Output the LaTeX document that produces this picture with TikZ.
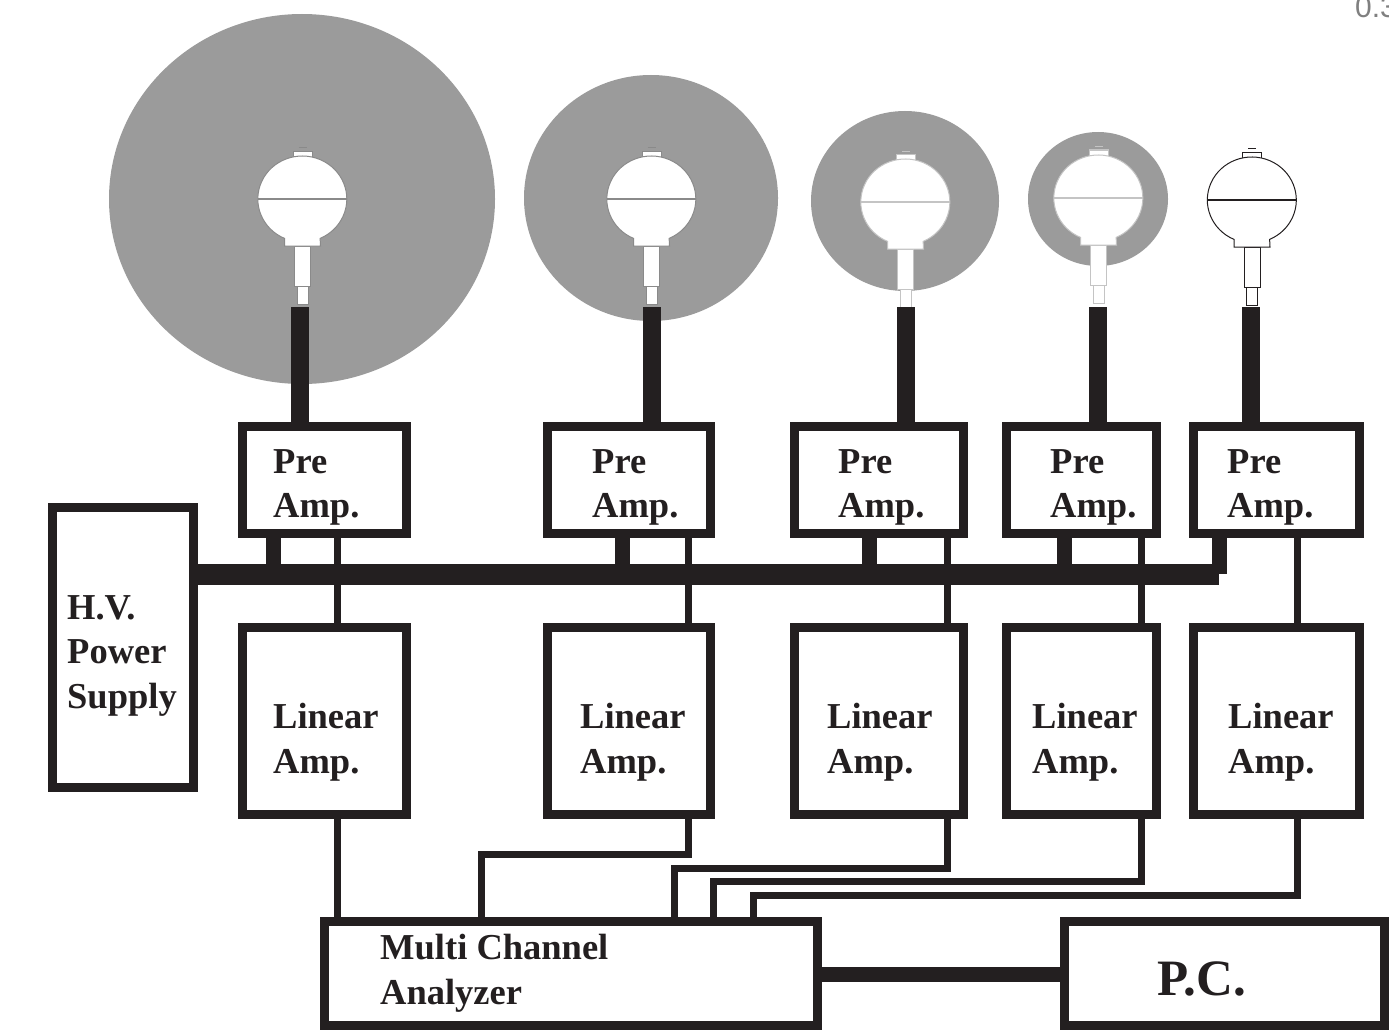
\documentclass[tikz,border=0pt]{standalone}
\usepackage{fontspec}
\setmainfont{Liberation Serif}
\setsansfont{Liberation Sans}
\usepackage{tikz}
\definecolor{minkblack}{HTML}{231F20}
\definecolor{mdisc}{HTML}{9B9B9B}
\definecolor{mprobe}{HTML}{8A8A8A}
\definecolor{mprobelight}{HTML}{C4C4C4}
\tikzset{
  ampbox/.style={draw=minkblack, line width=9pt, fill=white, inner sep=0pt},
  lbl/.style={font=\fontsize{36.5}{44.5}\selectfont\bfseries, text=minkblack, align=left, anchor=west, inner sep=0pt},
  wire/.style={draw=minkblack, line width=7pt},
  tap/.style={draw=minkblack, line width=15pt},
  busline/.style={draw=minkblack, line width=21pt},
  cable/.style={draw=minkblack, line width=18pt},
  disc/.style={fill=mdisc},
  pics/probe/.style={code={
    \draw[#1, fill=white, line width=1pt] (-5.5,87) rectangle (5.5,105);
    \draw[#1, fill=white, line width=1pt] (-8,47) rectangle (8,87);
    \draw[#1, fill=white, line width=1pt] (-9.5,-48) rectangle (9.5,-42);
    \draw[#1, fill=white, line width=1pt] (-18,39.4) arc[start angle=113.6, end angle=426.4, x radius=44.5, y radius=43] -- (18,47) -- (-18,47) -- cycle;
    \draw[#1, line width=2pt] (-44.5,0) -- (44.5,0);
    \draw[#1, line width=1pt] (-4,-51) -- (4,-51);
  }},
}
\begin{document}
\begin{tikzpicture}[x=1pt, y=-1pt]
  \useasboundingbox (0,0) rectangle (1389,1030);

  \node[font=\sffamily\fontsize{30}{30}\selectfont, text=gray, anchor=west, inner sep=0pt] (scale) at (1355,7) {0.3};

  \fill[disc] (302,199) ellipse [x radius=193, y radius=185];
  \fill[disc] (651,198) ellipse [x radius=127, y radius=123];
  \fill[disc] (905,201) ellipse [x radius=94, y radius=90];
  \fill[disc] (1098,199) ellipse [x radius=70, y radius=67];

  \pic (probe1) at (302.5,199) {probe=mprobe};
  \pic (probe2) at (651.5,199) {probe=mprobe};
  \pic (probe3) at (905.5,202) {probe=mprobelight};
  \pic (probe4) at (1098.5,198) {probe=mprobelight};
  \pic (probe5) at (1252,200) {probe=minkblack};

  \node[ampbox, minimum width=164pt, minimum height=107pt] (pre1) at (324.5,480) {};
  \node[ampbox, minimum width=163pt, minimum height=107pt] (pre2) at (629,480) {};
  \node[ampbox, minimum width=169pt, minimum height=107pt] (pre3) at (879,480) {};
  \node[ampbox, minimum width=150pt, minimum height=107pt] (pre4) at (1081.5,480) {};
  \node[ampbox, minimum width=166pt, minimum height=107pt] (pre5) at (1276.5,480) {};

  \node[ampbox, minimum width=164pt, minimum height=187pt] (lin1) at (324.5,721) {};
  \node[ampbox, minimum width=163pt, minimum height=187pt] (lin2) at (629,721) {};
  \node[ampbox, minimum width=169pt, minimum height=187pt] (lin3) at (879,721) {};
  \node[ampbox, minimum width=150pt, minimum height=187pt] (lin4) at (1081.5,721) {};
  \node[ampbox, minimum width=166pt, minimum height=187pt] (lin5) at (1276.5,721) {};

  \node[ampbox, minimum width=141pt, minimum height=280pt] (hv) at (123,647.5) {};
  \node[ampbox, minimum width=493pt, minimum height=104pt] (mca) at (571,973.5) {};
  \node[ampbox, minimum width=320pt, minimum height=104pt] (pc) at (1224.5,973.5) {};

  \node[lbl] (pre1t) at (273,487.5) {Pre\\Amp.};
  \node[lbl] (pre2t) at (592,487.5) {Pre\\Amp.};
  \node[lbl] (pre3t) at (838,487.5) {Pre\\Amp.};
  \node[lbl] (pre4t) at (1050,487.5) {Pre\\Amp.};
  \node[lbl] (pre5t) at (1227,487.5) {Pre\\Amp.};
  \node[lbl] (lin1t) at (273,742) {Linear\\Amp.};
  \node[lbl] (lin2t) at (580,742) {Linear\\Amp.};
  \node[lbl] (lin3t) at (827,742) {Linear\\Amp.};
  \node[lbl] (lin4t) at (1032,742) {Linear\\Amp.};
  \node[lbl] (lin5t) at (1228,742) {Linear\\Amp.};
  \node[lbl] (hvt) at (67,655.5) {H.V.\\Power\\Supply};
  \node[lbl] (mcat) at (380,973.5) {Multi Channel\\Analyzer};
  \node[lbl, font=\fontsize{51}{53}\selectfont\bfseries] (pct) at (1157,979) {P.C.};

  \coordinate (c1) at (300,307);
  \coordinate (c2) at (652,307);
  \coordinate (c3) at (906,307);
  \coordinate (c4) at (1098,307);
  \coordinate (c5) at (1251,307);
  \draw[cable] (c1) -- (c1 |- pre1.north);
  \draw[cable] (c2) -- (c2 |- pre2.north);
  \draw[cable] (c3) -- (c3 |- pre3.north);
  \draw[cable] (c4) -- (c4 |- pre4.north);
  \draw[cable] (c5) -- (c5 |- pre5.north);

  \coordinate (t1) at (273,574);
  \coordinate (t2) at (622,574);
  \coordinate (t3) at (869,574);
  \coordinate (t4) at (1064,574);
  \coordinate (t5) at (1219.5,574);
  \draw[busline] (hv.east |- t1) -- (1219,574);
  \draw[tap] (pre1.south -| t1) -- (t1);
  \draw[tap] (pre2.south -| t2) -- (t2);
  \draw[tap] (pre3.south -| t3) -- (t3);
  \draw[tap] (pre4.south -| t4) -- (t4);
  \draw[tap] (pre5.south -| t5) -- (t5);

  \coordinate (w1) at (337,917);
  \coordinate (w2) at (688,854);
  \coordinate (w3) at (947,868);
  \coordinate (w4) at (1141,881);
  \coordinate (w5) at (1297,895);
  \coordinate (m2) at (481,854);
  \coordinate (m3) at (674,868);
  \coordinate (m4) at (713,881);
  \coordinate (m5) at (753,895);

  \draw[wire] (pre1.south -| w1) -- (lin1.north -| w1);
  \draw[wire] (pre2.south -| w2) -- (lin2.north -| w2);
  \draw[wire] (pre3.south -| w3) -- (lin3.north -| w3);
  \draw[wire] (pre4.south -| w4) -- (lin4.north -| w4);
  \draw[wire] (pre5.south -| w5) -- (lin5.north -| w5);

  \draw[wire] (lin1.south -| w1) -- (mca.north -| w1);
  \draw[wire] (lin2.south -| w2) -- (w2) -- (m2) -- (mca.north -| m2);
  \draw[wire] (lin3.south -| w3) -- (w3) -- (m3) -- (mca.north -| m3);
  \draw[wire] (lin4.south -| w4) -- (w4) -- (m4) -- (mca.north -| m4);
  \draw[wire] (lin5.south -| w5) -- (w5) -- (m5) -- (mca.north -| m5);

  \draw[minkblack, line width=15pt] (mca.east |- 0,974.5) -- (pc.west |- 0,974.5);
\end{tikzpicture}
\end{document}
